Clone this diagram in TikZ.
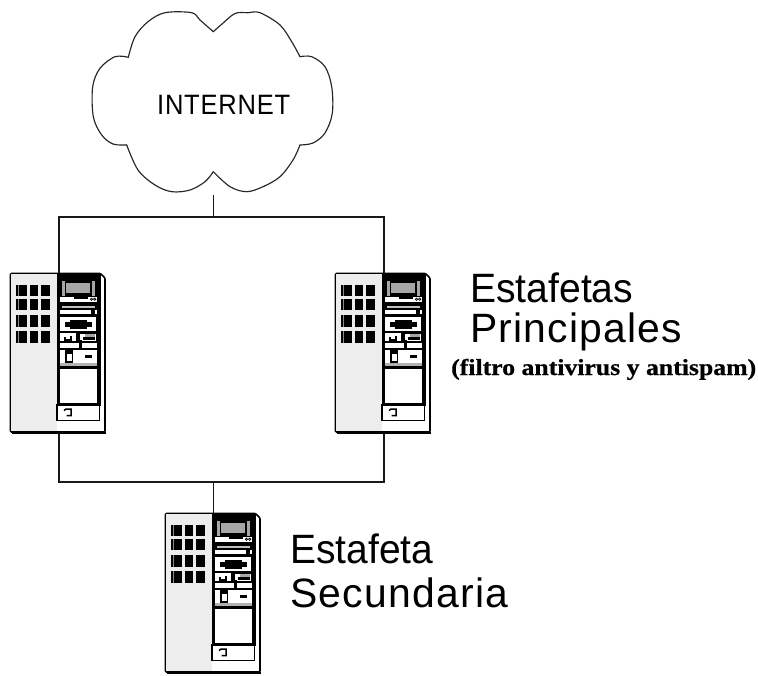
\documentclass[tikz,border=0pt]{standalone}
\usepackage{fontspec}
\usepackage{graphicx}
\setmainfont{Liberation Sans}
\newfontfamily\serifb{Liberation Serif}[BoldFont={Liberation Serif Bold}]
\tikzset{
  wire/.style={draw=black!90,line width=1.1pt},
  cloudline/.style={draw=black!85,line width=1.15pt,line cap=round,line join=round},
  serverbox/.style={rectangle,inner sep=0pt,minimum width=95pt,minimum height=160pt},
  lbl/.style={anchor=base west,inner sep=0pt,text=black},
  blk/.style={fill=black,draw=none},
  wht/.style={fill=white,draw=none},
  gry/.style={fill=black!35,draw=none},
}
\newcommand{\serverart}{%
  % body
  \draw[black,line width=1.6pt,rounded corners=1pt,fill=white] (10.5,273.5) -- (100.5,273.5) -- (105,278) -- (105,432) -- (10.5,432) -- cycle;
  \draw[black,line width=2pt] (12,433) -- (105.5,433);
  \fill[black!7] (11.3,274.3) rectangle (57,431.2);
  % grid
  \foreach \ya/\yb in {285/295.5,298.5/310,315/327,331/343}{
    \fill[black] (15.7,\ya) rectangle (27.3,\yb);
    \fill[black] (30,\ya) rectangle (37.9,\yb);
    \fill[black] (40.5,\ya) rectangle (50,\yb);
    \fill[black!45] (18.4,\ya) rectangle (19.2,\yb);
  }
  % door panel
  \path[blk] (57,273) rectangle (101,406);
  \path[wht] (59.5,368.5) rectangle (96.5,403);
  \path[fill=black!30] (60,363.3) rectangle (96.5,366);
  \draw[black,line width=1.2pt,fill=white] (57,405) rectangle (99.5,420.7);
  % screen
  \path[gry] (66,283) rectangle (90,293);
  \path[gry] (62,281) rectangle (64.5,296);
  \path[gry] (92,281) rectangle (94.5,296);
  % row 1
  \path[wht] (60,296.5) rectangle (96.5,301.5);
  \path[blk] (74,296.5) rectangle (88,299);
  \draw[black,line width=.7pt] (91.5,299.2) circle (1.2) (94.7,299.2) circle (1.2);
  % row 2
  \path[fill=black!25] (62,305.5) rectangle (95,308);
  \path[wht] (60,310) rectangle (91,314);
  \path[wht] (94.5,310) rectangle (96.5,314);
  % row 3
  \path[wht] (60,317) rectangle (96,331);
  \path[blk] (65,321.5) rectangle (92,327);
  \path[blk] (70,320) rectangle (87,329);
  % row 4
  \path[wht] (60,333) rectangle (76,341);
  \path[blk] (64,336.5) rectangle (65.5,341);
  \path[blk] (70,336) rectangle (72,341);
  \path[blk] (66,339) rectangle (70,341);
  \path[wht] (80,334) rectangle (96,341);
  \path[gry] (85,333.5) rectangle (95,337);
  \path[blk] (83,337) rectangle (95,340);
  % row 5
  \path[wht] (60,342.5) rectangle (96.5,348);
  \path[blk] (79,340) rectangle (81.5,350);
  % row 6
  \path[wht] (60,350) rectangle (96.5,362.5);
  \path[blk] (65,349) rectangle (73,353.5);
  \draw[black,line width=1.2pt] (66,353.5) rectangle (72.5,362);
  \path[blk] (85,355) rectangle (92,358);
  % icon
  \draw[black,line width=1.5pt] (64,410.5) -- (66,409) -- (71,409) -- (71,415.5) -- (66.5,415.5);
}
\begin{document}
\begin{tikzpicture}[x=1pt,y=-1pt]
\useasboundingbox[fill=white] (0,0) rectangle (758,675);
% cloud
\draw[cloudline] plot[smooth,tension=.55] coordinates {(213.3,31.7)(222,24)(235,13.5)(248,12.7)(260,12.7)(280,25)(291.7,41.7)(300,56.7)};
\draw[cloudline] plot[smooth,tension=.55] coordinates {(300,56.7)(311.7,56.7)(325,66.7)(331.7,86.7)(332.3,113.3)(325,133)(313,143)(300,145)};
\draw[cloudline] plot[smooth,tension=.55] coordinates {(300,145)(293,160)(280,176.7)(263,186.7)(246.7,191.7)(230,186.7)(213.3,171.7)};
\draw[cloudline] plot[smooth,tension=.55] coordinates {(213.3,171.7)(205,181.7)(190,190)(171.7,191.7)(155,185)(138,170)(126.7,145)};
\draw[cloudline] plot[smooth,tension=.55] coordinates {(126.7,145)(113,144)(101.7,135)(93.3,116.7)(92.7,86.7)(100,68.3)(115,56.7)(128.3,57.3)};
\draw[cloudline] plot[smooth,tension=.55] coordinates {(128.3,57.3)(135,36.7)(148,21.7)(165,12.7)(191.7,12.7)(200,20)(213.3,31.7)};
\node[lbl] (inet) at (157,114.5) {\resizebox{133pt}{\height}{\fontsize{28}{28}\selectfont\addfontfeature{LetterSpace=3}INTERNET}};
% servers
\serverart
\begin{scope}[shift={(325,0)}]\serverart\end{scope}
\begin{scope}[shift={(155,240)}]\serverart\end{scope}
\node[serverbox] (srvL) at (57.5,353) {};
\node[serverbox] (srvR) at (382.5,353) {};
\node[serverbox] (srvB) at (212.5,593) {};
% connectors
\coordinate (cloudfoot) at (213.5,195);
\coordinate (topbus) at (213.5,217);
\coordinate (tl) at (59,217);
\coordinate (tr) at (384,217);
\coordinate (bl) at (59,482);
\coordinate (br) at (384,482);
\coordinate (botbus) at (213.5,482);
\draw[wire] (cloudfoot) -- (topbus);
\draw[wire] (tl |- srvL.north) -- (tl) -- (tr) -- (tr |- srvR.north);
\draw[wire] (bl |- srvL.south) -- (bl) -- (br) -- (br |- srvR.south);
\draw[wire] (botbus) -- (botbus |- srvB.north);
% labels
\node[lbl] (t1) at (470,302) {\resizebox{163pt}{\height}{\fontsize{41}{41}\selectfont Estafetas}};
\node[lbl] (t2) at (470,342) {\resizebox{212pt}{\height}{\fontsize{41}{41}\selectfont\addfontfeature{LetterSpace=3}Principales}};
\node[lbl] (t3) at (451,375) {\resizebox{305pt}{\height}{\serifb\bfseries\fontsize{23}{23}\selectfont\addfontfeature{FakeBold=0.6}(filtro antivirus y antispam)}};
\node[lbl] (t4) at (290,563) {\resizebox{143pt}{\height}{\fontsize{41}{41}\selectfont Estafeta}};
\node[lbl] (t5) at (290,607) {\resizebox{218pt}{\height}{\fontsize{41}{41}\selectfont\addfontfeature{LetterSpace=3}Secundaria}};
\end{tikzpicture}
\end{document}
